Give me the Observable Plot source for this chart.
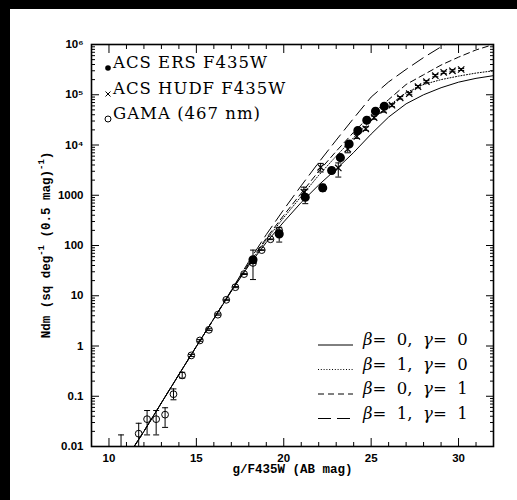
<!DOCTYPE html>
<html><head><meta charset="utf-8">
<script src="https://cdn.jsdelivr.net/npm/d3@7"></script>
<script src="https://cdn.jsdelivr.net/npm/@observablehq/plot@0.6"></script>
<style>
html,body{margin:0;padding:0;background:#000;width:517px;height:500px;overflow:hidden;}
#wrap{position:absolute;left:10px;top:9px;width:507px;height:491px;background:#fff;}
svg{display:block}
</style></head><body><div id="wrap"></div>
<script>
// ---- data ----
const gamaMag = [10.69, 11.70, 12.18, 12.70, 13.21, 13.69, 14.19, 14.71, 15.20, 15.72, 16.23, 16.71, 17.23, 17.73, 18.24, 18.74, 19.24, 19.74];
const gamaN   = [0.004, 0.018, 0.035, 0.035, 0.043, 0.11, 0.26, 0.65, 1.29, 2.1, 4.2, 8.3, 14.8, 27, 45, 81, 133, 198];
const gamaLo  = [0.001, 0.005, 0.017, 0.017, 0.024, 0.085, 0.23, 0.62, 1.24, 2.03, 4.1, 8.1, 14.5, 26.5, 44, 80, 131, 195];
const gamaHi  = [0.017, 0.029, 0.052, 0.052, 0.059, 0.14, 0.30, 0.68, 1.34, 2.2, 4.35, 8.5, 15.2, 27.5, 46, 82, 135, 201];

const ersMag = [18.24, 19.74, 21.23, 22.23, 22.74, 23.24, 23.74, 24.24, 24.75, 25.25, 25.75];
const ersN   = [52, 170, 910, 1400, 3100, 5600, 10500, 19400, 31000, 47000, 59000];
const ersLo  = [21, 117, 680, 1200, 2800, 5100, 9600, 18000, 29000, 44000, 56000];
const ersHi  = [81, 230, 1290, 1650, 3400, 6100, 11500, 21000, 33000, 50000, 62000];

const hudfMag = [21.15, 22.11, 23.12, 23.66, 24.18, 24.69, 25.17, 25.71, 26.19, 26.66, 27.18, 27.68, 28.16, 28.67, 29.15, 29.65, 30.15];
const hudfN   = [1150, 3600, 3500, 8300, 14800, 21000, 35000, 49000, 62000, 87000, 105000, 145000, 182000, 240000, 280000, 300000, 318000];
const hudfLo  = [880, 2900, 2300, 7000, 13500, 19500, 32500, 45000, 58000, 82000, 100000, 137000, 173000, 228000, 266000, 286000, 304000];
const hudfHi  = [1450, 4300, 4400, 9900, 16500, 23000, 37500, 53000, 66000, 92000, 110000, 153000, 191000, 252000, 294000, 314000, 332000];

// model curves (beta, gamma)
const m00Mag = [11.44, 12, 13, 14, 15, 16, 17, 18, 19, 20, 21, 22, 23, 24, 25, 26, 27, 28, 29, 30, 31, 32];
const m00N   = [0.01, 0.02, 0.074, 0.27, 0.98, 3.5, 12.3, 40, 115, 295, 720, 1600, 3300, 7100, 16500, 36000, 66000, 100000, 138000, 178000, 212000, 240000];
const m10Mag = [11.44, 12, 13, 14, 15, 16, 17, 18, 19, 20, 21, 22, 23, 24, 25, 26, 27, 28, 29, 30, 31, 32];
const m10N   = [0.01, 0.02, 0.074, 0.27, 0.98, 3.5, 12.5, 42, 130, 360, 950, 2500, 6000, 14000, 31000, 60000, 110000, 160000, 200000, 235000, 270000, 300000];
const m01Mag = [11.44, 12, 13, 14, 15, 16, 17, 18, 19, 20, 21, 22, 23, 24, 25, 26, 27, 28, 29, 30, 31, 32];
const m01N   = [0.01, 0.02, 0.074, 0.27, 0.98, 3.5, 12.6, 44, 140, 400, 1100, 3000, 7500, 18000, 40000, 80000, 160000, 250000, 390000, 560000, 780000, 1000000];
const m11Mag = [11.44, 12, 13, 14, 15, 16, 17, 18, 19, 20, 21, 22, 23, 24, 25, 26, 27, 28, 29, 29.5];
const m11N   = [0.01, 0.02, 0.074, 0.27, 0.98, 3.5, 12.8, 48, 165, 520, 1550, 4500, 12500, 34000, 90000, 180000, 320000, 550000, 900000, 1150000];

const majorX = [10, 15, 20, 25, 30];
const minorX = [9, 11, 12, 13, 14, 16, 17, 18, 19, 21, 22, 23, 24, 26, 27, 28, 29, 31, 32];
const decades = [0.01, 0.1, 1, 10, 100, 1000, 1e4, 1e5, 1e6];
const yTickLabels = ["0.01", "0.1", "1", "10", "100", "1000", "10\u2074", "10\u2075", "10\u2076"];
const minorY = decades.slice(0, -1).flatMap(d => [2,3,4,5,6,7,8,9].map(k => k * d));

const xTitle = "g/F435W (AB mag)";
const legendData = ["ACS ERS F435W", "ACS HUDF F435W", "GAMA (467 nm)"];
const modelLabels = [["0","0"], ["1","0"], ["0","1"], ["1","1"]];

// ---- build tables ----
const zip = (m, n, lo, hi) => m.map((x, i) => ({x, y: n[i], lo: lo ? lo[i] : null, hi: hi ? hi[i] : null}));
const gama = zip(gamaMag, gamaN, gamaLo, gamaHi);
const ers = zip(ersMag, ersN, ersLo, ersHi);
const hudf = zip(hudfMag, hudfN, hudfLo, hudfHi);
const m00 = zip(m00Mag, m00N), m10 = zip(m10Mag, m10N), m01 = zip(m01Mag, m01N), m11 = zip(m11Mag, m11N);
const yTicks = decades.map((v, i) => ({v, label: yTickLabels[i]}));

const cap = {draw(ctx, size) { const r = Math.sqrt(size / Math.PI); ctx.moveTo(-r, 0); ctx.lineTo(r, 0); }};
const K = "black";
const tickFont = {fontFamily: "Liberation Sans, Arial, sans-serif", fontSize: 11.5, fontWeight: "bold"};
const lines = [
  {data: m00, dash: null, sw: 1},
  {data: m10, dash: "1,1.8", sw: 1},
  {data: m01, dash: "6,4", sw: 1},
  {data: m11, dash: "13,6", sw: 1}
];
const errMarks = (d) => [
  Plot.ruleX(d, {x: "x", y1: "lo", y2: "hi", stroke: K, strokeWidth: 1, clip: true}),
  Plot.dot(d, {x: "x", y: "lo", symbol: cap, r: 3, stroke: K, strokeWidth: 1, clip: true}),
  Plot.dot(d, {x: "x", y: "hi", symbol: cap, r: 3, stroke: K, strokeWidth: 1, clip: true})
];

const W = 507, H = 491;
const plot = Plot.plot({
  width: W, height: H,
  marginLeft: 81, marginRight: 24, marginTop: 35, marginBottom: 54,
  x: {domain: [9, 32]},
  y: {type: "log", domain: [0.01, 1e6]},
  style: {background: "white", color: "black", overflow: "visible"},
  marks: [
    ...lines.map(l => Plot.line(l.data, {x: "x", y: "y", stroke: K, strokeWidth: l.sw, strokeDasharray: l.dash, clip: true})),
    ...errMarks(gama), ...errMarks(ers), ...errMarks(hudf),
    Plot.dot(gama, {x: "x", y: "y", r: 3.4, stroke: K, fill: "none", strokeWidth: 1, clip: true}),
    Plot.dot(ers, {x: "x", y: "y", r: 3.8, fill: K, stroke: K, clip: true}),
    Plot.dot(hudf, {x: "x", y: "y", symbol: "times", r: 3, stroke: K, strokeWidth: 1.2, clip: true}),
    // ticks (inward) on all four sides
    Plot.axisX(majorX, {anchor: "bottom", tickSize: -8, tickFormat: () => "", label: null}),
    Plot.axisX(minorX, {anchor: "bottom", tickSize: -4, tickFormat: () => "", label: null}),
    Plot.axisX(majorX, {anchor: "top", tickSize: -8, tickFormat: () => "", label: null}),
    Plot.axisX(minorX, {anchor: "top", tickSize: -4, tickFormat: () => "", label: null}),
    Plot.axisY(decades, {anchor: "left", tickSize: -8, tickFormat: () => "", label: null}),
    Plot.axisY(minorY, {anchor: "left", tickSize: -4, tickFormat: () => "", label: null}),
    Plot.axisY(decades, {anchor: "right", tickSize: -8, tickFormat: () => "", label: null}),
    Plot.axisY(minorY, {anchor: "right", tickSize: -4, tickFormat: () => "", label: null}),
    // labels
    Plot.axisX(majorX, {anchor: "bottom", tickSize: 0, tickPadding: 7, label: null, ...tickFont}),
    Plot.text(yTicks, {y: "v", text: "label", frameAnchor: "left", textAnchor: "end", dx: -8, ...tickFont}),
    Plot.frame({stroke: K, strokeWidth: 1.6}),
    Plot.text([xTitle], {frameAnchor: "bottom", dy: 26, text: d => d, fontFamily: "Liberation Mono, monospace", fontWeight: "bold", fontSize: 12.5})
  ]
});
document.getElementById("wrap").appendChild(plot);

// ---- legends & y title (positioned in pixels) ----
const svg = d3.select(plot);
const x0 = 81, y0 = 35, x1 = W - 24, y1 = H - 54;

// y-axis title with superscripts
const yt = svg.append("text")
  .attr("transform", `translate(${x0 - 44},${(y0 + y1) / 2}) rotate(-90)`)
  .attr("text-anchor", "middle").attr("dominant-baseline", "middle")
  .attr("font-family", "Liberation Mono, monospace").attr("font-weight", "bold").attr("font-size", 12.5).attr("fill", K);
yt.append("tspan").text("Ndm (sq deg");
yt.append("tspan").attr("dy", -5).attr("font-size", 9).text("-1");
yt.append("tspan").attr("dy", 5).text(" (0.5 mag)");
yt.append("tspan").attr("dy", -5).attr("font-size", 9).text("-1");
yt.append("tspan").attr("dy", 5).text(")");

// top-left legend
const serif = "DejaVu Serif, serif";
const tlY = [59, 85, 110];
const tlg = svg.append("g").attr("text-anchor", "start");
tlg.append("circle").attr("cx", x0 + 17).attr("cy", tlY[0]).attr("r", 2.8).attr("fill", K);
tlg.append("path").attr("d", `M${x0+14.5},${tlY[1]-2.5}L${x0+19.5},${tlY[1]+2.5}M${x0+14.5},${tlY[1]+2.5}L${x0+19.5},${tlY[1]-2.5}`).attr("stroke", K).attr("stroke-width", 1);
tlg.append("circle").attr("cx", x0 + 17).attr("cy", tlY[2]).attr("r", 3).attr("fill", "none").attr("stroke", K);
legendData.forEach((t, i) => {
  tlg.append("text").attr("x", x0 + 22).attr("y", tlY[i]).attr("text-anchor", "start").attr("font-family", serif).attr("font-size", 16.5).attr("letter-spacing", 1.0).attr("fill", K).text(t);
});

// bottom-right legend
const brY = [336, 360.5, 385, 409.5];
const brg = svg.append("g").attr("text-anchor", "start");
lines.forEach((l, i) => {
  brg.append("line").attr("x1", 308).attr("x2", 343).attr("y1", brY[i]).attr("y2", brY[i])
    .attr("stroke", K).attr("stroke-width", l.sw).attr("stroke-dasharray", l.dash);
  const t = brg.append("text").attr("x", 353).attr("y", brY[i]).attr("text-anchor", "start").attr("font-family", serif).attr("font-size", 16.5).attr("fill", K).attr("xml:space", "preserve").style("white-space", "pre");
  t.append("tspan").attr("font-style", "italic").text("\u03b2");
  t.append("tspan").text("=  " + modelLabels[i][0] + ",  ");
  t.append("tspan").attr("font-style", "italic").text("\u03b3");
  t.append("tspan").text("=  " + modelLabels[i][1]);
});
</script>
</body></html>
